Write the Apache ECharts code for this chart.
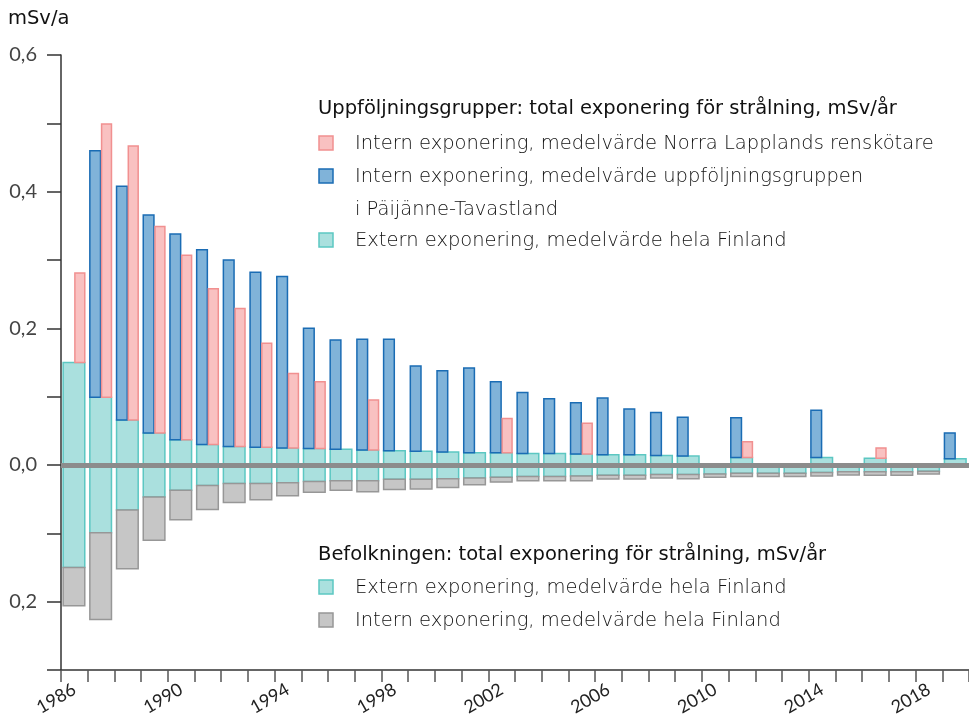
<!DOCTYPE html>
<html>
<head>
<meta charset="utf-8">
<script src="https://cdn.jsdelivr.net/npm/echarts@6/dist/echarts.min.js"></script>
<style>
  html, body { margin: 0; padding: 0; background: #ffffff; }
  #chart { width: 969px; height: 720px; }
</style>
</head>
<body>
<div id="chart"></div>
<script>
// Years on the category axis
const years = ['1986','1987','1988','1989','1990','1991','1992','1993','1994','1995',
  '1996','1997','1998','1999','2000','2001','2002','2003','2004','2005',
  '2006','2007','2008','2009','2010','2011','2012','2013','2014','2015',
  '2016','2017','2018','2019'];

// Follow-up groups (drawn above zero), mSv/a
const externUppfoljning = [0.150,0.099,0.066,0.047,0.037,0.030,0.027,0.026,0.025,0.024,
  0.023,0.022,0.021,0.020,0.019,0.018,0.018,0.017,0.017,0.016,
  0.015,0.015,0.014,0.013,null,0.011,null,null,0.011,null,
  0.010,null,null,0.009];
const internPaijanne = [null,0.361,0.342,0.319,0.301,0.285,0.273,0.256,0.251,0.176,
  0.160,0.162,0.163,0.125,0.119,0.124,0.104,0.089,0.080,0.075,
  0.083,0.067,0.063,0.057,null,0.058,null,null,0.069,null,
  null,null,null,0.038];
const internLappland = [0.131,0.400,0.401,0.302,0.270,0.228,0.202,0.152,0.109,0.098,
  null,0.073,null,null,null,null,0.050,null,null,0.045,
  null,null,null,null,null,0.023,null,null,null,null,
  0.015,null,null,null];

// Whole population (drawn below zero), mSv/a
const externBefolkning = [0.150,0.099,0.066,0.047,0.037,0.030,0.027,0.027,0.026,0.024,
  0.023,0.023,0.021,0.021,0.020,0.019,0.018,0.017,0.017,0.016,
  0.015,0.015,0.014,0.014,0.013,0.012,0.012,0.012,0.011,0.010,
  0.010,0.010,0.009,null];
const internBefolkning = [0.056,0.127,0.086,0.063,0.043,0.035,0.028,0.024,0.019,0.016,
  0.014,0.016,0.015,0.014,0.013,0.010,0.007,0.006,0.006,0.007,
  0.0055,0.0055,0.005,0.006,0.005,0.005,0.005,0.005,0.005,0.0045,
  0.005,0.005,0.004,null];

// Labelled y ticks (negative side shown as magnitude)
const yLabelTicks = [0.6, 0.4, 0.2, 0.0, -0.2];

const legendTitleUpp = 'Uppföljningsgrupper: total exponering för strålning, mSv/år';
const legendTitleBef = 'Befolkningen: total exponering för strålning, mSv/år';
const nameLappland = 'Intern exponering, medelvärde Norra Lapplands renskötare';
const namePaijanne = ['Intern exponering, medelvärde uppföljningsgruppen', 'i Päijänne-Tavastland'];
const nameExtern = 'Extern exponering, medelvärde hela Finland';
const nameInternBef = 'Intern exponering, medelvärde hela Finland';

const COLORS = {
  pink:  { fill: '#f9c1c1', stroke: '#f19090' },
  blue:  { fill: '#80b3d9', stroke: '#1a6cb4' },
  teal:  { fill: '#aae0de', stroke: '#5cc7c2' },
  grey:  { fill: '#c6c6c6', stroke: '#979797' }
};
const FONT = 'Lato, "Open Sans", sans-serif';
const WIDE = '"DejaVu Sans", Lato, sans-serif';

// Build [index, low, high] ranges; stacked on a base array
function ranges(values, base, sign) {
  const out = [];
  values.forEach((v, i) => {
    if (v == null) return;
    const b = base ? (base[i] || 0) : 0;
    const lo = sign * b, hi = sign * (b + v);
    out.push([i, Math.min(lo, hi), Math.max(lo, hi)]);
  });
  return out;
}

// Rectangle occupying a fraction [from, to] of the category band
function bandRect(from, to, col) {
  return function (params, api) {
    const i = api.value(0);
    const bw = api.size([1, 0])[0];
    const p0 = api.coord([i, api.value(1)]);
    const p1 = api.coord([i, api.value(2)]);
    const x = p0[0] - bw / 2 + from * bw;
    return {
      type: 'rect',
      shape: { x: x, y: Math.min(p0[1], p1[1]), width: (to - from) * bw, height: Math.abs(p1[1] - p0[1]) },
      style: { fill: col.fill, stroke: col.stroke, lineWidth: 1.5 }
    };
  };
}

function rangeSeries(name, data, from, to, col, extra) {
  return Object.assign({
    name: name,
    type: 'custom',
    renderItem: bandRect(from, to, col),
    encode: { x: 0, y: [1, 2] },
    data: data,
    silent: true
  }, extra || {});
}

// Legend drawn as graphic rows
function legendBlock(title, rows, x, yTitle) {
  const els = [{
    type: 'text', x: x, y: yTitle,
    style: { text: title, font: '19.5px ' + WIDE, fill: '#111111', verticalAlign: 'middle' }
  }];
  rows.forEach(r => {
    els.push({
      type: 'rect', x: x + 1, y: r.y - 7,
      shape: { width: 14, height: 14 },
      style: { fill: r.col.fill, stroke: r.col.stroke, lineWidth: 1.5 }
    });
    r.lines.forEach((t, k) => {
      els.push({
        type: 'text', x: x + 37, y: r.y + 1 + k * 33,
        style: { text: t, font: '200 19.5px ' + WIDE, fill: '#111111', verticalAlign: 'middle' }
      });
    });
  });
  return els;
}

const chart = echarts.init(document.getElementById('chart'), null, { renderer: 'canvas' });

chart.setOption({
  backgroundColor: '#ffffff',
  animation: false,
  grid: { left: 61, top: 55, width: 911, height: 615, containLabel: false },
  xAxis: {
    type: 'category',
    data: years,
    boundaryGap: true,
    axisLine: { onZero: false, lineStyle: { color: '#333333', width: 1.5 } },
    axisTick: { show: true, interval: 0, length: 12, lineStyle: { color: '#555555', width: 1.5 } },
    axisLabel: { interval: 3, rotate: 30, fontSize: 18, color: '#222222', margin: 18, fontFamily: FONT }
  },
  yAxis: {
    type: 'value',
    min: -0.3, max: 0.6, interval: 0.1,
    axisLine: { show: true, lineStyle: { color: '#333333', width: 1.5 } },
    axisTick: { show: true, length: 14, lineStyle: { color: '#333333', width: 1.5 } },
    splitLine: { show: false },
    axisLabel: {
      margin: 24, fontSize: 20, color: '#444444', fontFamily: FONT,
      formatter: function (v) {
        const r = Math.round(v * 10) / 10;
        if (!yLabelTicks.some(t => Math.abs(t - r) < 1e-6)) return '';
        return Math.abs(r).toFixed(1).replace('.', ',');
      }
    }
  },
  series: [
    rangeSeries('externUpp', ranges(externUppfoljning, null, 1), 0.08, 0.89, COLORS.teal),
    rangeSeries('paijanne', ranges(internPaijanne, externUppfoljning, 1), 0.08, 0.48, COLORS.blue),
    rangeSeries('lappland', ranges(internLappland, externUppfoljning, 1), 0.52, 0.89, COLORS.pink),
    rangeSeries('externBef', ranges(externBefolkning, null, -1), 0.08, 0.89, COLORS.teal),
    rangeSeries('internBef', ranges(internBefolkning, externBefolkning, -1), 0.08, 0.89, COLORS.grey, {
      markLine: {
        silent: true,
        symbol: ['none', 'none'],
        label: { show: false },
        lineStyle: { color: '#8c8c8c', width: 5, type: 'solid' },
        data: [{ yAxis: 0 }]
      }
    })
  ],
  graphic: [
    { type: 'text', x: 8, y: 19, style: { text: 'mSv/a', font: '19.5px ' + WIDE, fill: '#111111', verticalAlign: 'middle' } }
  ].concat(
    legendBlock(legendTitleUpp, [
      { y: 143, col: COLORS.pink, lines: [nameLappland] },
      { y: 176, col: COLORS.blue, lines: namePaijanne },
      { y: 240, col: COLORS.teal, lines: [nameExtern] }
    ], 318, 109),
    legendBlock(legendTitleBef, [
      { y: 587, col: COLORS.teal, lines: [nameExtern] },
      { y: 620, col: COLORS.grey, lines: [nameInternBef] }
    ], 318, 555)
  )
});
</script>
</body>
</html>
